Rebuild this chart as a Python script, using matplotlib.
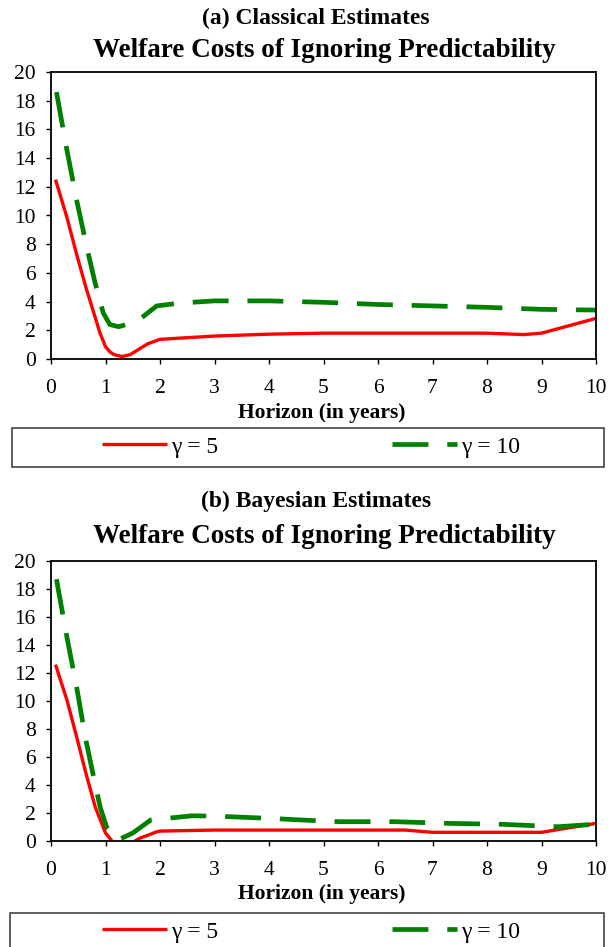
import matplotlib
matplotlib.use("Agg")
import matplotlib.pyplot as plt
from matplotlib.patches import Rectangle

plt.rcParams["font.family"] = ["Liberation Serif", "DejaVu Serif"]

# Welfare costs (%) versus investment horizon (years)
# Panel (a): classical estimates
a_g5_x = [0.083, 0.29, 0.47, 0.64, 0.77, 0.9, 1.0, 1.08, 1.16, 1.3, 1.45, 1.6,
          1.77, 2.0, 3.0, 4.0, 5.0, 6.0, 7.0, 8.0, 8.67, 9.0, 10.0]
a_g5_y = [12.5, 9.9, 7.3, 5.0, 3.4, 1.8, 0.86, 0.5, 0.3, 0.17, 0.3, 0.65,
          1.05, 1.37, 1.6, 1.73, 1.8, 1.8, 1.8, 1.8, 1.7, 1.8, 2.83]
a_g10_x = [0.1, 0.29, 0.48, 0.68, 0.81, 0.96, 1.08, 1.24, 1.57, 1.94, 2.37,
           3.0, 4.0, 5.0, 6.0, 7.0, 8.0, 9.0, 10.0]
a_g10_y = [18.6, 14.6, 10.9, 7.4, 5.3, 3.2, 2.4, 2.25, 2.6, 3.7, 3.9,
           4.05, 4.05, 3.95, 3.8, 3.7, 3.6, 3.46, 3.41]

# Panel (b): Bayesian estimates
b_g5_x = [0.083, 0.29, 0.47, 0.64, 0.81, 1.0, 1.16, 1.3, 1.45, 1.63, 1.77, 1.94,
          2.0, 3.0, 4.0, 5.0, 6.5, 7.0, 8.0, 9.0, 10.0]
b_g5_y = [12.6, 10.1, 7.45, 4.85, 2.45, 0.57, -0.2, -0.4, -0.2, 0.2, 0.4, 0.66,
          0.71, 0.78, 0.78, 0.78, 0.78, 0.62, 0.62, 0.62, 1.26]
b_g10_x = [0.1, 0.29, 0.47, 0.64, 0.77, 0.9, 1.02, 1.23, 1.5, 1.83, 2.58,
           3.0, 4.0, 4.6, 5.3, 6.3, 7.3, 8.3, 9.3, 10.0]
b_g10_y = [18.7, 14.6, 11.0, 7.2, 4.8, 2.45, 1.0, 0.07, 0.57, 1.5, 1.8,
           1.78, 1.62, 1.5, 1.38, 1.38, 1.26, 1.19, 1.02, 1.2]

x_ticks = list(range(0, 11))
y_ticks = list(range(0, 21, 2))

panel_titles = ["(a) Classical Estimates", "(b) Bayesian Estimates"]
chart_title = "Welfare Costs of Ignoring Predictability"
x_label = "Horizon (in years)"
series_labels = ["\u03b3 = 5", "\u03b3 = 10"]

RED = "#ff0000"
GREEN = "#008000"

W, H = 612, 947
fig = plt.figure(figsize=(W / 100, H / 100), dpi=100)


def fx(px):
    return px / W


def fy(py):
    return 1 - py / H


panels = [
    dict(ax_top=72, ax_bot=359, sub_y=24, title_y=57, xlabel_y=418,
         box=(12, 428, 604, 467), leg_y=447,
         data=(a_g5_x, a_g5_y, a_g10_x, a_g10_y)),
    dict(ax_top=561, ax_bot=841, sub_y=507, title_y=543, xlabel_y=899,
         box=(10, 913, 604, 952), leg_y=932,
         data=(b_g5_x, b_g5_y, b_g10_x, b_g10_y)),
]

for i, p in enumerate(panels):
    ax = fig.add_axes([fx(51), fy(p["ax_bot"]), fx(596) - fx(51),
                       fy(p["ax_top"]) - fy(p["ax_bot"])])
    g5x, g5y, g10x, g10y = p["data"]
    l1, = ax.plot(g5x, g5y, color=RED, lw=2.4, solid_capstyle="butt",
                  solid_joinstyle="round", label=series_labels[0])
    l2, = ax.plot(g10x, g10y, color=GREEN, lw=3.4,
                  linestyle=(0, (7.6, 4.0)), dash_capstyle="butt",
                  label=series_labels[1])
    ax.set_xlim(0, 10)
    ax.set_ylim(0, 20)
    ax.set_xticks(x_ticks)
    ax.set_yticks(y_ticks)
    ax.tick_params(axis="both", direction="out", length=3.6, width=1.0,
                   labelsize=15.5, colors="black")
    ax.tick_params(axis="y", pad=7.5)
    ax.tick_params(axis="x", pad=10.5)
    for s in ax.spines.values():
        s.set_linewidth(1.4)
        s.set_color("#111111")

    fig.text(fx(316), fy(p["sub_y"]), panel_titles[i], ha="center",
             va="baseline", fontsize=17, fontweight="bold")
    fig.text(fx(324), fy(p["title_y"]), chart_title, ha="center",
             va="baseline", fontsize=19.5, fontweight="bold")
    fig.text(fx(322), fy(p["xlabel_y"]), x_label, ha="center",
             va="baseline", fontsize=15.5, fontweight="bold")

    x0, y0, x1, y1 = p["box"]
    fig.patches.append(Rectangle((fx(x0), fy(y1)), fx(x1) - fx(x0),
                                 fy(y0) - fy(y1), transform=fig.transFigure,
                                 fill=False, edgecolor="#333333", lw=1.1))
    fig.legend(handles=[l1, l2], loc="center",
               bbox_to_anchor=(fx(311), fy(p["leg_y"])), ncol=2,
               frameon=False, fontsize=17, handlelength=2.75,
               handletextpad=0.15, columnspacing=7.4, borderpad=0)

fig.savefig("out.png", dpi=100)
